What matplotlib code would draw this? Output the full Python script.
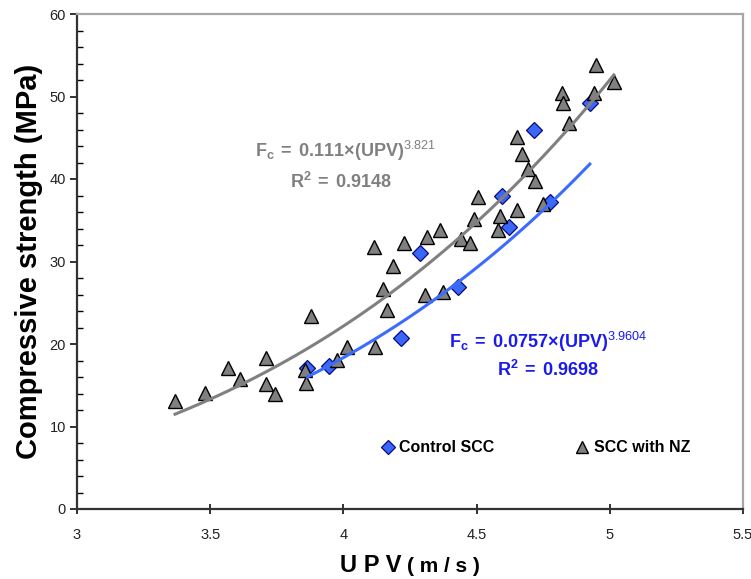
import numpy as np
import matplotlib
matplotlib.use("Agg")
import matplotlib.pyplot as plt
from matplotlib.ticker import MultipleLocator

plt.rcParams['font.family'] = ['Liberation Sans', 'DejaVu Sans']
plt.rcParams['mathtext.fontset'] = 'custom'
plt.rcParams['mathtext.rm'] = 'Liberation Sans'
plt.rcParams['mathtext.bf'] = 'Liberation Sans:bold'
plt.rcParams['mathtext.it'] = 'Liberation Sans:italic'

# Control SCC: UPV (km/s) vs compressive strength (MPa)
control_upv = [3.865, 3.947, 4.218, 4.286, 4.429, 4.594, 4.620, 4.714, 4.774, 4.925]
control_fc = [17.1, 17.3, 20.7, 31.0, 26.9, 37.9, 34.2, 45.9, 37.2, 49.2]

# SCC with natural zeolite
nz_upv = [3.368, 3.481, 3.568, 3.613, 3.711, 3.711, 3.744, 3.857, 3.861, 3.880,
          3.977, 4.015, 4.117, 4.113, 4.150, 4.165, 4.188, 4.229, 4.305, 4.312,
          4.372, 4.361, 4.440, 4.474, 4.492, 4.504, 4.579, 4.586, 4.650, 4.650,
          4.669, 4.692, 4.718, 4.748, 4.820, 4.823, 4.846, 4.940, 4.947, 5.015]
nz_fc = [13.1, 14.1, 17.1, 15.8, 18.3, 15.2, 13.9, 16.8, 15.3, 23.4,
         18.1, 19.6, 19.6, 31.8, 26.7, 24.1, 29.5, 32.2, 25.9, 33.0,
         26.3, 33.8, 32.7, 32.2, 35.2, 37.8, 33.8, 35.5, 36.2, 45.1,
         43.0, 41.2, 39.8, 37.0, 50.4, 49.2, 46.8, 50.4, 53.8, 51.8]

# Power-law fits  Fc = a * UPV^b
control_a, control_b, control_r2 = "0.0757", "3.9604", "0.9698"
nz_a, nz_b, nz_r2 = "0.111", "3.821", "0.9148"

x_ticks = [3, 3.5, 4, 4.5, 5, 5.5]
x_tick_labels = ["3", "3.5", "4", "4.5", "5", "5.5"]
y_ticks = [0, 10, 20, 30, 40, 50, 60]

fig = plt.figure(figsize=(7.51, 5.79), dpi=100)
ax = fig.add_axes([77 / 751, 1 - 509 / 579, (743 - 77) / 751, (509 - 14) / 579])

blue_fill = '#3a67f5'
blue_text = '#1a1aee'
grey = '#808080'

ax.plot(control_upv, control_fc, linestyle='none', marker='D', markersize=8.5,
        markerfacecolor=blue_fill, markeredgecolor='#0a0a80', markeredgewidth=0.9,
        label='Control SCC', zorder=3)
ax.plot(nz_upv, nz_fc, linestyle='none', marker='^', markersize=10.5,
        markerfacecolor=grey, markeredgecolor='black', markeredgewidth=1.0,
        label='SCC with NZ', zorder=3)

xs_nz = np.linspace(min(nz_upv), max(nz_upv), 200)
ax.plot(xs_nz, float(nz_a) * xs_nz ** float(nz_b), color=grey, lw=2.2, zorder=4)
xs_c = np.linspace(min(control_upv), max(control_upv), 200)
ax.plot(xs_c, float(control_a) * xs_c ** float(control_b), color='#3c6cff', lw=2.2, zorder=4)

ax.set_xlim(3, 5.5)
ax.set_ylim(0, 60)
ax.set_xticks(x_ticks)
ax.set_xticklabels(x_tick_labels)
ax.set_yticks(y_ticks)
ax.yaxis.set_minor_locator(MultipleLocator(2))
ax.tick_params(axis='both', labelsize=10.5, colors='#222222')
ax.tick_params(axis='x', which='major', direction='inout', length=7, width=1.3, pad=10)
ax.tick_params(axis='y', which='major', direction='out', length=5, width=1.3, pad=3)
ax.tick_params(axis='y', which='minor', direction='in', length=4, width=1.0)

for side in ('left', 'bottom'):
    ax.spines[side].set_color('#333333')
    ax.spines[side].set_linewidth(1.6)
for side in ('top', 'right'):
    ax.spines[side].set_color('#a6a6a6')
    ax.spines[side].set_linewidth(1.6)

ax.set_ylabel('Compressive strength (MPa)', fontsize=21, fontweight='bold', labelpad=5)
fig.text(371 / 751, 1 - 566 / 579, 'U P V', fontsize=17, fontweight='bold',
         ha='center', va='center')
fig.text(443 / 751, 1 - 566 / 579, '( m / s )', fontsize=15, fontweight='bold',
         ha='center', va='center')

eq_fmt = r'$\mathbf{F}_{\mathbf{c}}\mathbf{\;=\;%s{\times}(UPV)}^{%s}$'
r2_fmt = r'$\mathbf{R}^{\mathbf{2}}\mathbf{\;=\;%s}$'
ax.text(4.01, 43.4, eq_fmt % (nz_a, nz_b), color=grey, fontsize=13, ha='center', va='center')
ax.text(3.99, 39.6, r2_fmt % nz_r2, color=grey, fontsize=13, ha='center', va='center')
ax.text(4.77, 20.2, eq_fmt % (control_a, control_b), color=blue_text, fontsize=13,
        ha='center', va='center')
ax.text(4.77, 16.9, r2_fmt % control_r2, color=blue_text, fontsize=13,
        ha='center', va='center')

leg = ax.legend(loc='center', bbox_to_anchor=(4.72, 7.4), bbox_transform=ax.transData,
                ncol=2, frameon=False, fontsize=11.5, handletextpad=0.2,
                columnspacing=5.0, handlelength=1.0, markerscale=0.85)
for t in leg.get_texts():
    t.set_fontweight('bold')

fig.savefig('out.png', dpi=100)
